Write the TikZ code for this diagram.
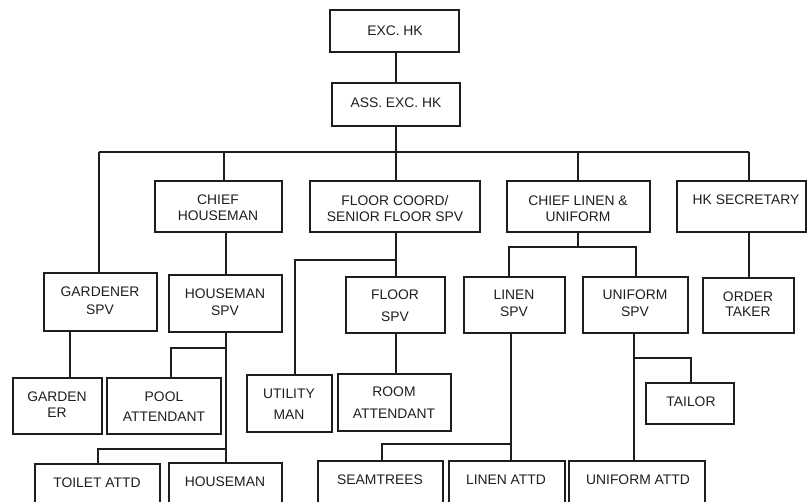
\documentclass[tikz,border=0pt]{standalone}
\usepackage{fontspec}
\setmainfont{Liberation Sans}
\usetikzlibrary{fit}
\definecolor{ink}{HTML}{1E1E1E}
\tikzset{
  box/.style={draw=ink, line width=0.95pt, inner sep=0pt, fill=none},
  lbl/.style={inner sep=0pt, anchor=base, text=ink, font=\fontsize{10.4pt}{12pt}\selectfont},
  conn/.style={draw=ink, line width=0.95pt},
}
\newcommand{\bx}[5]{\node[box, fit={(#2,#3) (#4,#5)}] (#1) {};}
\newcommand{\tx}[4]{\node[lbl] (#1) at (#2,#3+5) {#4};}
\begin{document}
\begin{tikzpicture}[x=0.75pt,y=-0.75pt]
\useasboundingbox (0,0) rectangle (808,502);
\clip (0,0) rectangle (808,502);
% boxes
\bx{exc}{330}{10}{459}{52}
\bx{ass}{332}{83}{460}{126}
\bx{ch}{155}{181}{282}{232}
\bx{fc}{310}{181}{480}{232}
\bx{cl}{507}{181}{650}{232}
\bx{hks}{677}{181}{806}{232}
\bx{gsp}{44}{273}{157}{331}
\bx{hsp}{169}{275}{282}{332}
\bx{fsp}{346}{277}{445}{333}
\bx{lsp}{464}{277}{565}{333}
\bx{usp}{583}{277}{688}{333}
\bx{ot}{703}{278}{794}{333}
\bx{ge}{13}{378}{102}{434}
\bx{pool}{107}{378}{221}{434}
\bx{util}{247}{375}{332}{432}
\bx{room}{338}{374}{451}{431}
\bx{tailor}{646}{383}{734}{424}
\bx{toilet}{35}{464}{160}{520}
\bx{hm}{169}{463}{282}{520}
\bx{seam}{318}{461}{443}{520}
\bx{lat}{449}{461}{565}{520}
\bx{uat}{569}{461}{705}{520}
% texts
\tx{t1}{395}{31}{EXC. HK}
\tx{t2}{396}{103}{ASS. EXC. HK}
\tx{t3}{218}{200}{CHIEF}
\tx{t4}{218}{216}{HOUSEMAN}
\tx{t5}{395}{201}{FLOOR COORD/}
\tx{t6}{395}{217}{SENIOR FLOOR SPV}
\tx{t7}{578}{201}{CHIEF LINEN \&}
\tx{t8}{578}{217}{UNIFORM}
\tx{t9}{746}{200}{HK SECRETARY}
\tx{t10}{100}{292}{GARDENER}
\tx{t11}{100}{310}{SPV}
\tx{t12}{225}{294}{HOUSEMAN}
\tx{t13}{225}{311}{SPV}
\tx{t14}{395}{295}{FLOOR}
\tx{t15}{395}{317}{SPV}
\tx{t16}{514}{295}{LINEN}
\tx{t17}{514}{312}{SPV}
\tx{t18}{635}{295}{UNIFORM}
\tx{t19}{635}{312}{SPV}
\tx{t20}{748}{297}{ORDER}
\tx{t21}{748}{312}{TAKER}
\tx{t22}{57}{397}{GARDEN}
\tx{t23}{57}{413}{ER}
\tx{t24}{164}{397}{POOL}
\tx{t25}{164}{417}{ATTENDANT}
\tx{t26}{289}{394}{UTILITY}
\tx{t27}{289}{415}{MAN}
\tx{t28}{394}{392}{ROOM}
\tx{t29}{394}{414}{ATTENDANT}
\tx{t30}{691}{402}{TAILOR}
\tx{t31}{97}{483}{TOILET ATTD}
\tx{t32}{225}{482}{HOUSEMAN}
\tx{t33}{380}{480}{SEAMTREES}
\tx{t34}{506}{480}{LINEN ATTD}
\tx{t35}{638}{480}{UNIFORM ATTD}
% junction coordinates
\coordinate (busL) at (99,152);
\coordinate (busR) at (749,152);
\coordinate (bA) at (396,152);
\coordinate (bCH) at (224,152);
\coordinate (bCL) at (578,152);
\coordinate (fcJ) at (396,260);
\coordinate (utJ) at (295,260);
\coordinate (clJ) at (578,247);
\coordinate (lJ) at (509,247);
\coordinate (uJ) at (636,247);
\coordinate (hsX) at (226,0);
\coordinate (poJ) at (171,348);
\coordinate (hpJ) at (226,348);
\coordinate (toJ) at (98,449);
\coordinate (htJ) at (226,449);
\coordinate (seJ) at (382,444);
\coordinate (laJ) at (511,444);
\coordinate (taJ) at (691,358);
\coordinate (uaJ) at (634,358);
\coordinate (gX) at (70,0);
% connectors
\draw[conn] (ass.north) -- (ass.north |- exc.south);
\draw[conn] (ass.south) -- (bA);
\draw[conn] (busL) -- (busR);
\draw[conn] (busL) -- (busL |- gsp.north);
\draw[conn] (bCH) -- (bCH |- ch.north);
\draw[conn] (bA) -- (bA |- fc.north);
\draw[conn] (bCL) -- (bCL |- cl.north);
\draw[conn] (busR) -- (busR |- hks.north);
\draw[conn] (hsX |- ch.south) -- (hsX |- hsp.north);
\draw[conn] (fcJ |- fc.south) -- (fcJ |- fsp.north);
\draw[conn] (fcJ) -- (utJ) -- (utJ |- util.north);
\draw[conn] (clJ |- cl.south) -- (clJ);
\draw[conn] (lJ |- lsp.north) -- (lJ) -- (uJ) -- (uJ |- usp.north);
\draw[conn] (busR |- hks.south) -- (busR |- ot.north);
\draw[conn] (gX |- gsp.south) -- (gX |- ge.north);
\draw[conn] (hsX |- hsp.south) -- (hsX |- hm.north);
\draw[conn] (hpJ) -- (poJ) -- (poJ |- pool.north);
\draw[conn] (htJ) -- (toJ) -- (toJ |- toilet.north);
\draw[conn] (fcJ |- fsp.south) -- (fcJ |- room.north);
\draw[conn] (laJ |- lsp.south) -- (laJ |- lat.north);
\draw[conn] (laJ) -- (seJ) -- (seJ |- seam.north);
\draw[conn] (uaJ |- usp.south) -- (uaJ |- uat.north);
\draw[conn] (uaJ) -- (taJ) -- (taJ |- tailor.north);
\end{tikzpicture}
\end{document}
